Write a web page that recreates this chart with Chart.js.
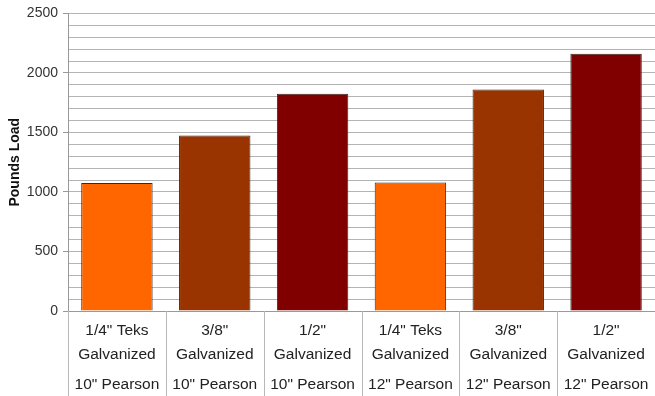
<!DOCTYPE html>
<html>
<head>
<meta charset="utf-8">
<script src="https://cdn.jsdelivr.net/npm/chart.js@4/dist/chart.umd.min.js"></script>
<style>
html,body{margin:0;padding:0;background:#fff;}
#wrap{width:655px;height:396px;position:relative;}
</style>
</head>
<body>
<div id="wrap"><canvas id="c" width="655" height="396"></canvas></div>
<script>
const fastenerLabels = [["1/4\" Teks","Galvanized"],["3/8\"","Galvanized"],["1/2\"","Galvanized"],["1/4\" Teks","Galvanized"],["3/8\"","Galvanized"],["1/2\"","Galvanized"]];
const pearsonLabels = ["10\" Pearson","10\" Pearson","10\" Pearson","12\" Pearson","12\" Pearson","12\" Pearson"];
const poundsLoad = [1075, 1475, 1825, 1080, 1860, 2160];
const barColors = ["#FF6600","#993300","#800000","#FF6600","#993300","#800000"];
const yTitle = "Pounds Load";

const sepPlugin = {
  id:'sep',
  afterDraw(chart){
    const xs = chart.scales.x;
    const ctx = chart.ctx;
    const n = xs.ticks.length;
    const w = (xs.right - xs.left)/n;
    ctx.save();
    ctx.strokeStyle = '#b8b8b8';
    ctx.lineWidth = 1;
    for(let i=0;i<=n;i++){
      const x = Math.round(xs.left + i*w) + 0.5;
      ctx.beginPath();
      ctx.moveTo(x, chart.chartArea.bottom);
      ctx.lineTo(x, chart.height);
      ctx.stroke();
    }
    ctx.restore();
  }
};

new Chart(document.getElementById('c'), {
  type:'bar',
  data:{
    labels: fastenerLabels,
    datasets:[{
      data: poundsLoad,
      backgroundColor: barColors,
      borderColor: '#3a2a20',
      borderWidth: 1,
      barPercentage: 0.73,
      categoryPercentage: 1.0
    }]
  },
  options:{
    responsive:false,
    animation:false,
    devicePixelRatio:1,
    layout:{padding:{top:10,right:0,left:7,bottom:0}},
    plugins:{legend:{display:false},tooltip:{enabled:false}},
    scales:{
      x:{
        position:'bottom',
        grid:{offset:true, drawOnChartArea:false, drawTicks:false, color:'#b8b8b8'},
        border:{display:true,color:'#999'},
        ticks:{font:{family:'"Liberation Sans", Arial, sans-serif',size:15.5,lineHeight:1.55},color:'#222',padding:8,maxRotation:0,autoSkip:false},
        afterFit(s){ s.height = 64; }
      },
      x2:{
        type:'category',
        position:'bottom',
        labels: pearsonLabels,
        offset:true,
        grid:{display:false, drawTicks:false},
        border:{display:false},
        ticks:{font:{family:'"Liberation Sans", Arial, sans-serif',size:15.5},color:'#222',padding:0,maxRotation:0,autoSkip:false},
        afterFit(s){ s.height = 21; }
      },
      y:{
        min:0,max:2500,
        ticks:{stepSize:100,autoSkip:false,
          callback:(v)=> v%500===0 ? String(v) : '',
          font:{family:'"Liberation Sans", Arial, sans-serif',size:14},color:'#333',padding:5},
        grid:{color:'#b4b4b4', lineWidth:1, tickLength:5,
          tickColor:(c)=> (c.tick && c.tick.value%500===0) ? '#999' : 'rgba(0,0,0,0)'},
        border:{display:true,color:'#999'},
        title:{display:true,text:yTitle,font:{family:'"Liberation Sans", Arial, sans-serif',size:14,weight:'bold'},color:'#111',padding:{top:0,bottom:4}},
        afterFit(s){ s.width = 61; }
      }
    }
  },
  plugins:[sepPlugin]
});
</script>
</body>
</html>
